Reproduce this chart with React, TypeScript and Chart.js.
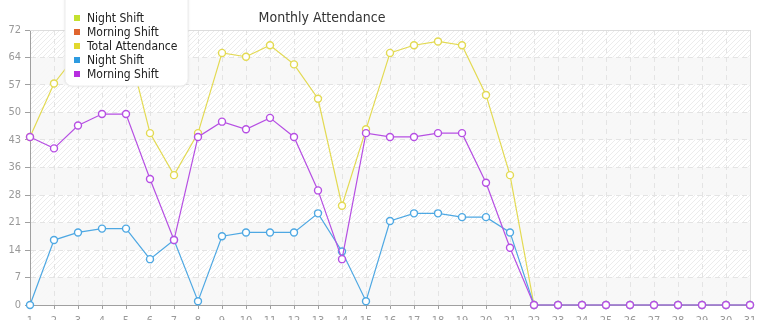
import React, { useEffect, useRef } from "react";
import { Chart, registerables } from "chart.js";

Chart.register(...registerables);

const days = ["1","2","3","4","5","6","7","8","9","10","11","12","13","14","15","16","17","18","19","20","21","22","23","24","25","26","27","28","29","30","31"];
const totalAttendance = [44, 58, 66, 70, 70, 45, 34, 45, 66, 65, 68, 63, 54, 26, 46, 66, 68, 69, 68, 55, 34, 0, 0, 0, 0, 0, 0, 0, 0, 0, 0];
const nightShift = [0, 17, 19, 20, 20, 12, 17, 1, 18, 19, 19, 19, 24, 14, 1, 22, 24, 24, 23, 23, 19, 0, 0, 0, 0, 0, 0, 0, 0, 0, 0];
const morningShift = [44, 41, 47, 50, 50, 33, 17, 44, 48, 46, 49, 44, 30, 12, 45, 44, 44, 45, 45, 32, 15, 0, 0, 0, 0, 0, 0, 0, 0, 0, 0];
const legendLabels = ["Night Shift", "Morning Shift", "Total Attendance", "Night Shift", "Morning Shift"];
const legendColors = ["#c4e12e", "#e0652e", "#e2d82e", "#2e9be0", "#b72ee0"];
const yMax = 72;
const yStep = 7.2;
const titleText = "Monthly Attendance";
const FONT = "'DejaVu Sans Condensed', 'DejaVu Sans', sans-serif";

function makeHatch(): CanvasPattern | string {
  const c = document.createElement("canvas");
  c.width = 5;
  c.height = 5;
  const g = c.getContext("2d");
  if (!g) return "#fff";
  g.fillStyle = "#ffffff";
  g.fillRect(0, 0, 5, 5);
  g.strokeStyle = "#ececec";
  g.lineWidth = 1;
  g.beginPath();
  g.moveTo(-1, 6);
  g.lineTo(6, -1);
  g.stroke();
  const p = g.createPattern(c, "repeat");
  return p || "#fff";
}

const backgroundPlugin = {
  id: "bgBands",
  beforeDraw(chart: any) {
    const { ctx, chartArea } = chart;
    const y = chart.scales.y;
    ctx.save();
    ctx.fillStyle = makeHatch();
    ctx.fillRect(chartArea.left, chartArea.top, chartArea.right - chartArea.left, chartArea.bottom - chartArea.top);
    ctx.fillStyle = "rgba(247,247,247,0.93)";
    for (let i = 0; i < 10; i += 2) {
      const y0 = y.getPixelForValue(i * yStep);
      const y1 = y.getPixelForValue((i + 1) * yStep);
      ctx.fillRect(chartArea.left, y1, chartArea.right - chartArea.left, y0 - y1);
    }
    ctx.restore();
  },
  beforeDatasetsDraw(chart: any) {
    const { ctx, chartArea } = chart;
    ctx.save();
    ctx.strokeStyle = "#dddddd";
    ctx.lineWidth = 1;
    ctx.beginPath();
    ctx.moveTo(chartArea.left, chartArea.top + 0.5);
    ctx.lineTo(chartArea.right + 0.5, chartArea.top + 0.5);
    ctx.lineTo(chartArea.right + 0.5, chartArea.bottom);
    ctx.stroke();
    ctx.restore();
  },
  afterDraw(chart: any) {
    const { ctx } = chart;
    ctx.save();
    // title
    ctx.fillStyle = "#333333";
    ctx.font = `14px ${FONT}`;
    ctx.textAlign = "center";
    ctx.textBaseline = "alphabetic";
    ctx.fillText(titleText, 322, 22);
    // legend box
    const bx = 65, by = -8, bw = 123, bh = 94, r = 7;
    ctx.shadowColor = "rgba(0,0,0,0.12)";
    ctx.shadowBlur = 3;
    ctx.fillStyle = "#ffffff";
    ctx.beginPath();
    ctx.moveTo(bx + r, by);
    ctx.lineTo(bx + bw - r, by);
    ctx.arcTo(bx + bw, by, bx + bw, by + r, r);
    ctx.lineTo(bx + bw, by + bh - r);
    ctx.arcTo(bx + bw, by + bh, bx + bw - r, by + bh, r);
    ctx.lineTo(bx + r, by + bh);
    ctx.arcTo(bx, by + bh, bx, by + bh - r, r);
    ctx.lineTo(bx, by + r);
    ctx.arcTo(bx, by, bx + r, by, r);
    ctx.closePath();
    ctx.fill();
    ctx.shadowColor = "transparent";
    ctx.shadowBlur = 0;
    ctx.strokeStyle = "#ececec";
    ctx.lineWidth = 1;
    ctx.stroke();
    ctx.font = `12px ${FONT}`;
    ctx.textAlign = "left";
    ctx.textBaseline = "middle";
    legendLabels.forEach((lab, i) => {
      const cy = 18 + i * 14;
      ctx.fillStyle = legendColors[i];
      ctx.fillRect(74, cy - 3, 6, 6);
      ctx.fillStyle = "#222222";
      ctx.fillText(lab, 87, cy + 0.5);
    });
    ctx.restore();
  },
};

function lineDs(label: string, data: number[], color: string, order: number) {
  return {
    label,
    data,
    borderColor: color,
    backgroundColor: "#ffffff",
    borderWidth: 1.2,
    pointRadius: 3.5,
    pointBorderWidth: 1.4,
    pointBackgroundColor: "#ffffff",
    pointBorderColor: color,
    tension: 0,
    fill: false,
    clip: false as any,
    order,
  };
}

export default function App() {
  const ref = useRef<HTMLCanvasElement | null>(null);
  useEffect(() => {
    document.body.style.margin = "0";
    const canvas = ref.current;
    if (!canvas) return;
    const chart = new Chart(canvas, {
      type: "line",
      data: {
        labels: days,
        datasets: [
          lineDs(legendLabels[0], [], "#c4e12e", 4),
          lineDs(legendLabels[1], [], "#e0652e", 3),
          lineDs(legendLabels[2], totalAttendance, "#e3da52", 2),
          lineDs(legendLabels[3], nightShift, "#4ea8e3", 1),
          lineDs(legendLabels[4], morningShift, "#b64fe3", 0),
        ],
      },
      options: {
        animation: false,
        responsive: false,
        maintainAspectRatio: false,
        layout: { padding: { top: 30, right: 15, left: 0, bottom: 0 } },
        plugins: {
          legend: { display: false },
          title: { display: false },
          tooltip: { enabled: false },
        },
        scales: {
          x: {
            type: "category",
            offset: false,
            grid: {
              color: "#e4e4e4",
              lineWidth: 1,
              tickLength: 4,
              tickColor: "#a0a0a0",
              drawOnChartArea: true,
            },
            border: { display: true, color: "#a0a0a0", width: 1, dash: [5, 4] },
            ticks: {
              color: "#999999",
              font: { family: FONT, size: 11 },
              padding: 6,
              maxRotation: 0,
              autoSkip: false,
            },
            afterFit(scale: any) {
              scale.height = 15;
            },
          },
          y: {
            min: 0,
            max: yMax,
            grid: {
              color: "#e4e4e4",
              lineWidth: 1,
              tickLength: 5,
              tickColor: "#a0a0a0",
            },
            border: { display: true, color: "#a0a0a0", width: 1, dash: [5, 4] },
            ticks: {
              stepSize: yStep,
              color: "#999999",
              font: { family: FONT, size: 11 },
              padding: 4,
              callback: (v: any) => String(Math.floor(Number(v) + 1e-6)),
            },
            afterFit(scale: any) {
              scale.width = 30;
            },
          },
        },
      },
      plugins: [backgroundPlugin],
    });
    return () => chart.destroy();
  }, []);
  return (
    <div style={{ width: 765, height: 320, overflow: "hidden", background: "#fff" }}>
      <canvas ref={ref} width={765} height={320} style={{ display: "block" }} />
    </div>
  );
}
